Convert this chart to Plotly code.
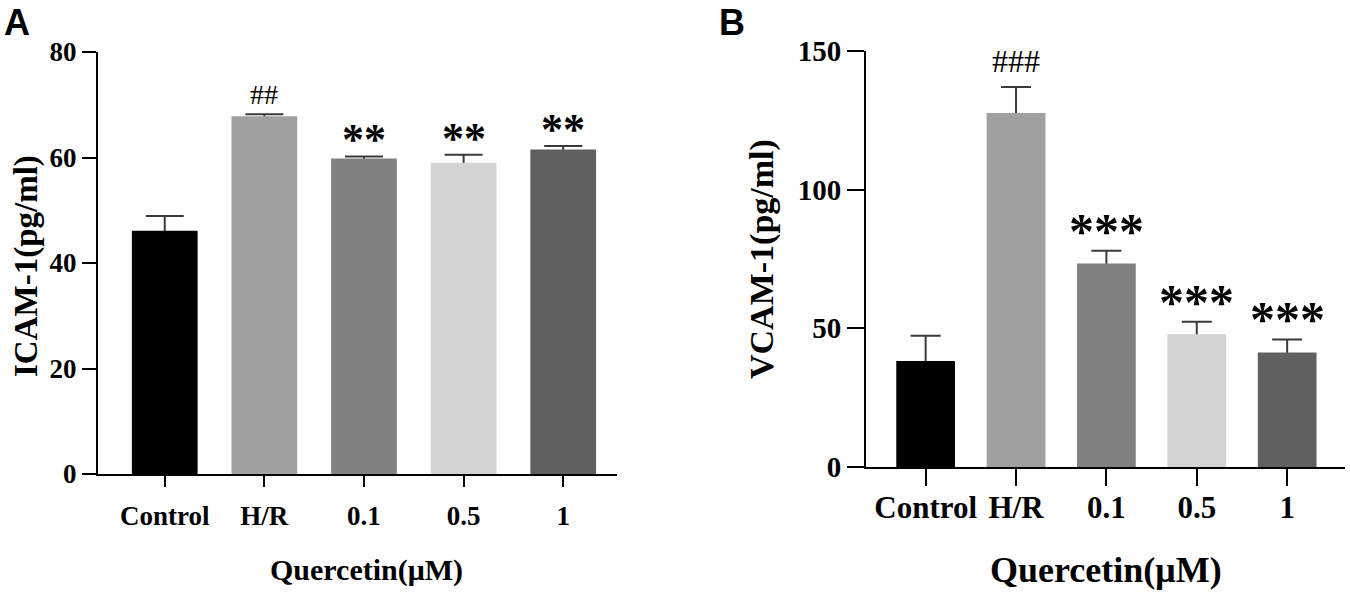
import plotly.graph_objects as go

# data
groups = ["Control", "H/R", "0.1", "0.5", "1"]
icam_mean = [46.1, 67.8, 59.8, 59.0, 61.5]
icam_sem = [2.8, 0.4, 0.4, 1.5, 0.7]
icam_marks = ["", "##", "**", "**", "**"]
vcam_mean = [38.2, 127.6, 73.4, 47.9, 41.3]
vcam_sem = [9.1, 9.4, 4.6, 4.5, 4.7]
vcam_marks = ["", "###", "***", "***", "***"]
bar_colors = ["#000000", "#a0a0a0", "#808080", "#d3d3d3", "#606060"]

W, H = 1350, 592
SERIF = "Liberation Serif"


def px_x(p):
    return p / W


def px_y(p):
    return 1 - p / H


def add_panel(fig, means, sems, xa, ya, bar_w, cap_w):
    # error bars sit on a see-through copy, the real bars are drawn over
    # their lower half so only the upper whisker shows
    fig.add_trace(go.Bar(
        x=groups, y=means, width=bar_w,
        marker=dict(color="rgba(0,0,0,0)", line=dict(width=0)),
        error_y=dict(type="data", array=sems, color="#3a3a3a",
                     thickness=2, width=cap_w),
        xaxis=xa, yaxis=ya, showlegend=False, hoverinfo="skip"))
    fig.add_trace(go.Bar(
        x=groups, y=means, width=bar_w,
        marker=dict(color=bar_colors, line=dict(width=0)),
        xaxis=xa, yaxis=ya, showlegend=False))


fig = go.Figure()
add_panel(fig, icam_mean, icam_sem, "x", "y", 0.66, 19)
add_panel(fig, vcam_mean, vcam_sem, "x2", "y2", 0.65, 15)

axis_common = dict(showline=True, linecolor="black", linewidth=2,
                   ticks="outside", tickcolor="black", tickwidth=2,
                   showgrid=False, zeroline=False, automargin=False)

fig.update_layout(
    template="none",
    width=W, height=H,
    margin=dict(l=0, r=0, t=0, b=0, pad=0),
    paper_bgcolor="white", plot_bgcolor="white",
    showlegend=False,
    barmode="overlay",
    xaxis=dict(type="category", domain=[px_x(98), px_x(617)], anchor="y",
               range=[-0.67, 4.54], ticklen=11, ticklabelstandoff=6,
               tickfont=dict(family=SERIF, size=27, color="black", weight="bold"),
               **axis_common),
    yaxis=dict(domain=[px_y(474), px_y(52)], anchor="x",
               range=[0, 80], tickvals=[0, 20, 40, 60, 80], ticklen=14,
               tickfont=dict(family=SERIF, size=27, color="black", weight="bold"),
               **axis_common),
    xaxis2=dict(type="category", domain=[px_x(866), px_x(1345)], anchor="y2",
                range=[-0.66, 4.64], ticklen=17, ticklabelstandoff=-5,
                tickfont=dict(family=SERIF, size=31, color="black", weight="bold"),
                **axis_common),
    yaxis2=dict(domain=[px_y(467), px_y(51)], anchor="x2",
                range=[0, 150], tickvals=[0, 50, 100, 150], ticklen=17,
                tickfont=dict(family=SERIF, size=29, color="black", weight="bold"),
                **axis_common),
)

# significance marks above bars (x given as category index)
for i, (m, s, mark) in enumerate(zip(icam_mean, icam_sem, icam_marks)):
    if not mark:
        continue
    hash_mark = mark.startswith("#")
    fig.add_annotation(
        x=i, y=m + s, xref="x", yref="y", text=mark, showarrow=False,
        yanchor="bottom", yshift=2 if hash_mark else -10,
        font=dict(family=SERIF, size=28 if hash_mark else 44, color="black",
                  weight="normal" if hash_mark else "bold"))

for i, (m, s, mark) in enumerate(zip(vcam_mean, vcam_sem, vcam_marks)):
    if not mark:
        continue
    hash_mark = mark.startswith("#")
    fig.add_annotation(
        x=i, y=m + s, xref="x2", yref="y2", text=mark, showarrow=False,
        yanchor="bottom", yshift=6 if hash_mark else -10,
        font=dict(family=SERIF, size=32 if hash_mark else 50, color="black",
                  weight="normal" if hash_mark else "bold"))

# axis titles and panel letters
texts = [
    ("Quercetin(μM)", 366, 570, 0, 30),
    ("Quercetin(μM)", 1106, 570, 0, 36),
    ("ICAM-1(pg/ml)", 26, 266, -90, 33),
    ("VCAM-1(pg/ml)", 762, 259, -90, 34),
]
for txt, x, y, ang, size in texts:
    fig.add_annotation(
        x=px_x(x), y=px_y(y), xref="paper", yref="paper", text=txt,
        showarrow=False, textangle=ang, xanchor="center", yanchor="middle",
        font=dict(family=SERIF, size=size, color="black", weight="bold"))

for letter, x in [("A", 17), ("B", 732)]:
    fig.add_annotation(
        x=px_x(x), y=px_y(23), xref="paper", yref="paper", text=letter,
        showarrow=False, xanchor="center", yanchor="middle",
        font=dict(family="Liberation Sans", size=36, color="black", weight="bold"))

# drop the default page margin so the figure sits at the window corner
fig.write_html("out.html", config={"displayModeBar": False},
               post_script="document.body.style.margin='0';")
